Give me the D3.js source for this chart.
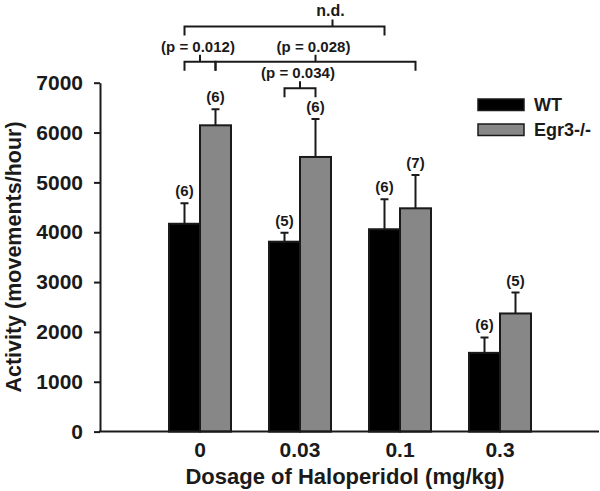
<!DOCTYPE html>
<meta charset="utf-8">
<style>
    body { margin: 0; background: #fff; }
    svg { font-family: Arial, "Liberation Sans", Helvetica, sans-serif; font-weight: bold; }
</style>
<body>
<script src="https://cdn.jsdelivr.net/npm/d3@7"></script>
<script>
    // data
    const doses = ["0", "0.03", "0.1", "0.3"];
    const groups = ["WT", "Egr3-/-"];
    const wtMean = [4170, 3810, 4060, 1580];
    const wtErr = [410, 180, 600, 310];
    const egrMean = [6145, 5510, 4480, 2370];
    const egrErr = [320, 760, 670, 420];
    const wtN = [6, 5, 6, 6];
    const egrN = [6, 6, 7, 5];
    const yTicks = [0, 1000, 2000, 3000, 4000, 5000, 6000, 7000];

    // significance brackets: [dose, group] -> [dose, group], level (activity units), tick fraction, label
    const brackets = [
        {from: ["0", 0], to: ["0.1", 0], level: 8130, tick: 0.74, label: "n.d.", size: 16},
        {from: ["0", 0], to: ["0", 1], level: 7420, tick: 0.5, label: "(p = 0.012)", size: 15},
        {from: ["0", 1], to: ["0.1", 1], level: 7420, tick: 0.5, label: "(p = 0.028)", size: 15},
        {from: ["0.03", 0], to: ["0.03", 1], level: 6890, tick: 0.5, label: "(p = 0.034)", size: 15}
    ];

    const width = 600, height = 491;
    const margin = {left: 100, top: 82.7, bottom: 59.4};
    const ink = "#1a1a1a";

    const svg = d3.select("body").append("svg")
        .attr("width", width)
        .attr("height", height);

    const x = d3.scaleBand()
        .domain(doses)
        .range([150, 550])
        .paddingInner(0.38)
        .paddingOuter(0.19);

    const xSub = d3.scaleBand()
        .domain([0, 1])
        .range([0, x.bandwidth()]);

    const y = d3.scaleLinear()
        .domain([0, 7000])
        .range([height - margin.bottom, margin.top]);

    const color = ["#000000", "#878787"];

    const rows = doses.map((d, i) => ({dose: d, vals: [
        {g: 0, mean: wtMean[i], err: wtErr[i], n: wtN[i]},
        {g: 1, mean: egrMean[i], err: egrErr[i], n: egrN[i]}
    ]}));

    // y axis
    svg.append("g")
        .attr("transform", `translate(${margin.left},0)`)
        .call(d3.axisLeft(y).tickValues(yTicks).tickFormat(d3.format("d"))
            .tickSizeInner(6).tickSizeOuter(0).tickPadding(11))
        .call(g => g.selectAll("path, line").attr("stroke", ink).attr("stroke-width", 2))
        .call(g => g.selectAll("text").attr("fill", ink).style("font-size", "21px").style("font-weight", "bold")
            .style("font-family", "Arial, 'Liberation Sans', sans-serif"));

    // bars
    const grp = svg.selectAll(".dose")
        .data(rows)
        .enter().append("g")
        .attr("class", "dose")
        .attr("transform", d => `translate(${x(d.dose)},0)`);

    // error bars (upper only) drawn before bars
    grp.selectAll(".err")
        .data(d => d.vals)
        .enter().append("path")
        .attr("class", "err")
        .attr("fill", "none")
        .attr("stroke", ink)
        .attr("stroke-width", 2)
        .attr("d", d => {
            const cx = xSub(d.g) + xSub.bandwidth() / 2;
            const top = y(d.mean + d.err);
            return `M${cx},${y(d.mean)}V${top}M${cx - 4},${top}H${cx + 4}`;
        });

    grp.selectAll("rect")
        .data(d => d.vals)
        .enter().append("rect")
        .attr("x", d => xSub(d.g))
        .attr("y", d => y(d.mean))
        .attr("width", xSub.bandwidth())
        .attr("height", d => y(0) - y(d.mean))
        .attr("fill", d => color[d.g])
        .attr("stroke", ink)
        .attr("stroke-width", 2);

    grp.selectAll(".n")
        .data(d => d.vals)
        .enter().append("text")
        .attr("class", "n")
        .attr("x", d => xSub(d.g) + xSub.bandwidth() / 2)
        .attr("y", d => y(d.mean + d.err) - 7)
        .attr("text-anchor", "middle")
        .attr("fill", ink)
        .style("font-size", "15px")
        .text(d => `(${d.n})`);

    // x axis
    svg.append("line")
        .attr("x1", margin.left - 1).attr("x2", width - 1)
        .attr("y1", y(0)).attr("y2", y(0))
        .attr("stroke", ink).attr("stroke-width", 2);

    svg.append("g")
        .attr("transform", `translate(0,${y(0)})`)
        .call(d3.axisBottom(x).tickSize(0).tickPadding(10))
        .call(g => g.select(".domain").remove())
        .call(g => g.selectAll("text").attr("fill", ink).style("font-size", "21px").style("font-weight", "bold")
            .style("font-family", "Arial, 'Liberation Sans', sans-serif"));

    // axis titles
    svg.append("text")
        .attr("x", 345)
        .attr("y", 484)
        .attr("text-anchor", "middle")
        .attr("fill", ink)
        .style("font-size", "22px")
        .text("Dosage of Haloperidol (mg/kg)");

    svg.append("text")
        .attr("transform", "translate(21,257) rotate(-90)")
        .attr("text-anchor", "middle")
        .attr("fill", ink)
        .style("font-size", "21.5px")
        .text("Activity (movements/hour)");

    // significance brackets
    const barX = p => x(p[0]) + xSub(p[1]) + xSub.bandwidth() / 2;
    const br = svg.append("g").attr("class", "brackets");
    brackets.forEach(b => {
        const x0 = barX(b.from), x1 = barX(b.to), yy = y(b.level);
        const xt = x0 + (x1 - x0) * b.tick;
        br.append("path")
            .attr("fill", "none")
            .attr("stroke", ink)
            .attr("stroke-width", 2)
            .attr("d", `M${x0},${yy + 9}V${yy}H${x1}V${yy + 9}M${xt},${yy}V${yy - 7}`);
        br.append("text")
            .attr("x", xt - 2)
            .attr("y", yy - 10)
            .attr("text-anchor", "middle")
            .attr("fill", ink)
            .style("font-size", b.size + "px")
            .text(b.label);
    });

    // legend
    const legend = svg.append("g")
        .attr("transform", "translate(478,99)")
        .selectAll("g")
        .data(groups)
        .enter().append("g")
        .attr("transform", (d, i) => `translate(0,${i * 25})`);

    legend.append("rect")
        .attr("width", 46)
        .attr("height", 11.5)
        .attr("fill", (d, i) => color[i])
        .attr("stroke", ink)
        .attr("stroke-width", 1.5);

    legend.append("text")
        .attr("x", 56)
        .attr("y", 6)
        .attr("dy", "0.36em")
        .attr("fill", ink)
        .style("font-size", "18px")
        .text(d => d);
</script>
</body>
</html>
